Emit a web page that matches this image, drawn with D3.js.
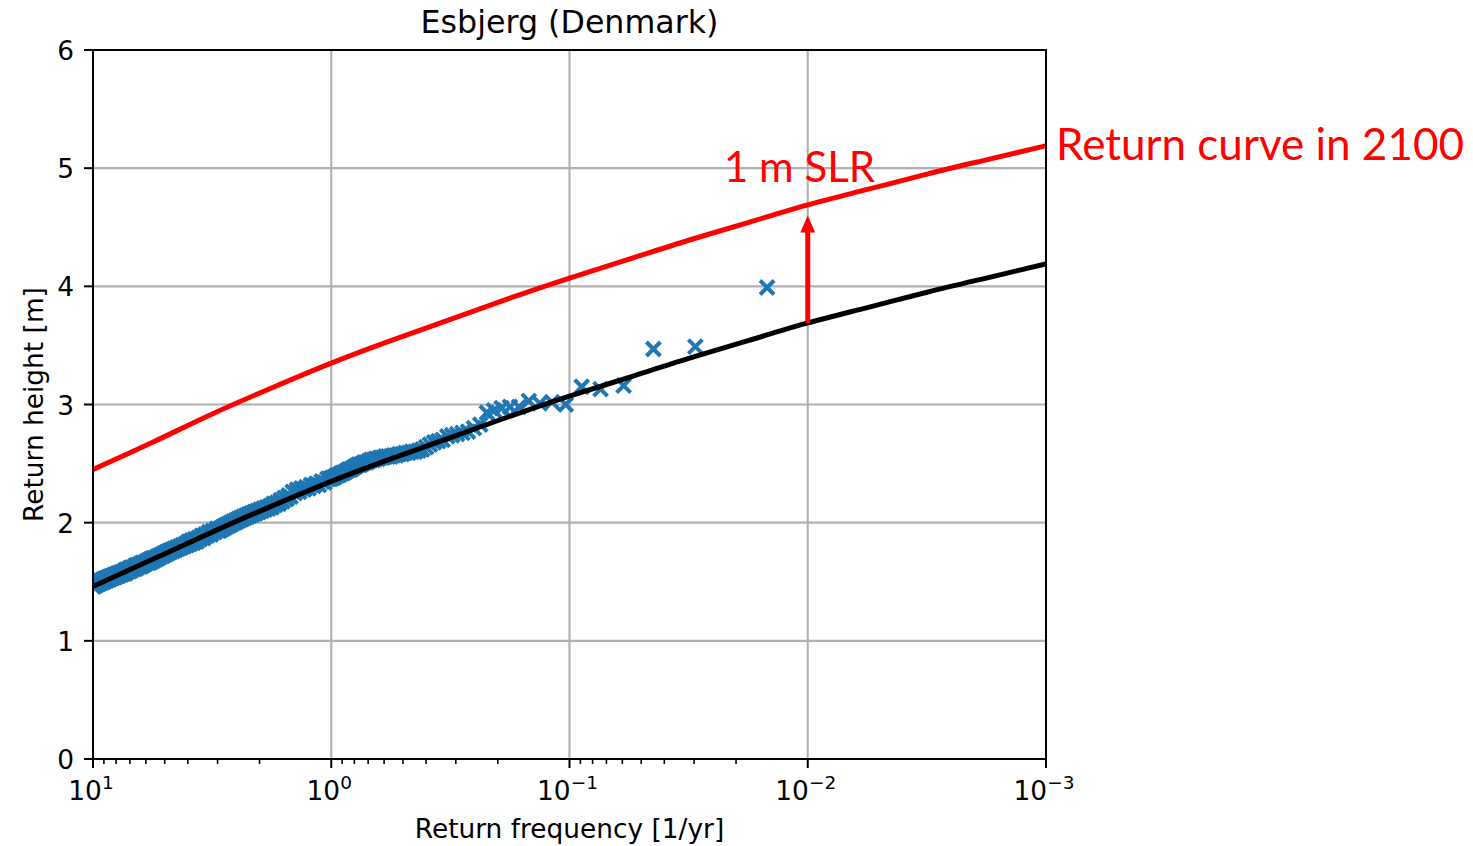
<!DOCTYPE html>
<html lang="en">
<head>
    <meta charset="UTF-8">
    <title>Esbjerg return curve</title>
    <style>
        body { margin: 0; background: #fff; }
        text { font-family: "DejaVu Sans", sans-serif; }
    </style>
</head>
<body>
<svg id="chart" width="1473" height="846"></svg>
<script src="https://d3js.org/d3.v7.min.js"></script>
<script>

    // fitted return curve today
    var curveFreq = [10, 5.62, 3.16, 1.78, 1, 0.562, 0.316, 0.178, 0.1, 0.0562, 0.0316, 0.0178, 0.01, 0.00562, 0.00316, 0.00178, 0.001];
    var curveNow = [1.46, 1.69, 1.92, 2.14, 2.35, 2.54, 2.72, 2.90, 3.07, 3.23, 3.39, 3.54, 3.69, 3.82, 3.95, 4.07, 4.19];
    // same curve with 1 m sea level rise (2100)
    var curve2100 = [2.45, 2.68, 2.92, 3.14, 3.35, 3.54, 3.72, 3.90, 4.07, 4.23, 4.39, 4.54, 4.69, 4.82, 4.95, 5.07, 5.19];

    // observed extremes: rank (1 = highest) and height [m]
    var recordYears = 67.5;
    var obsRank = [1, 2, 3, 4, 5, 6, 7, 8, 9, 10, 11, 12, 13, 14, 15, 16, 17, 18, 19, 20,
        21, 22, 23, 24, 25, 26, 27, 28, 29, 30,
        31, 32, 33, 34, 35, 36, 37, 38, 39, 40, 41, 42, 43, 44, 45, 46, 47, 48, 49, 50,
        51, 52, 53, 54, 55, 56, 57, 58, 59, 60, 61, 62, 63, 64, 65, 66, 67, 68, 69,
        70, 72, 74, 76, 78, 80, 82, 84, 86, 88, 90, 92, 94, 96, 98, 100, 102, 104, 106, 108,
        110, 112, 114, 116, 118, 120, 122, 124, 126, 128, 130, 132, 134, 136, 138, 140, 142, 144, 146, 148,
        150, 152, 154, 156, 158, 160, 162, 164, 166, 168, 170, 172, 174, 176, 178, 180, 182, 184, 186, 188,
        190, 192, 194, 196, 198, 200,
        204, 208, 212, 216, 220, 224, 228, 232, 236, 240, 244, 248, 252, 256, 260, 264, 268, 272, 276, 280,
        284, 288, 292, 296, 300, 304, 308, 312, 316, 320, 324, 328, 332, 336, 340, 344, 348, 352, 356, 360,
        364, 368, 372, 376, 380, 384, 388, 392, 396, 400, 404, 408, 412, 416, 420, 424, 428, 432, 436, 440,
        444, 448, 452, 456, 460, 464, 468, 472, 476, 480, 484, 488, 492, 496, 500, 504, 508, 512, 516, 520,
        524, 528, 532, 536, 540, 544, 548, 552, 556, 560, 564, 568, 572, 576, 580, 584, 588, 592, 596, 600,
        604, 608, 612, 616, 620, 624, 628, 632, 636, 640, 644, 648, 652, 656, 660, 664, 668, 672];
    var obsHeight = [3.99, 3.49, 3.47, 3.16, 3.13, 3.15, 3.00, 3.02, 3.01, 3.03, 2.98, 2.98, 2.97, 2.95, 2.93, 2.83, 2.80, 2.77, 2.76, 2.75,
        2.74, 2.73, 2.70, 2.69, 2.68, 2.66, 2.64, 2.62, 2.61, 2.60,
        2.60, 2.59, 2.59, 2.58, 2.58, 2.57, 2.57, 2.56, 2.56, 2.56, 2.55, 2.55, 2.54, 2.54, 2.53, 2.53, 2.52, 2.51, 2.51, 2.50,
        2.49, 2.49, 2.48, 2.47, 2.46, 2.45, 2.45, 2.44, 2.43, 2.42, 2.42, 2.41, 2.40, 2.40, 2.39, 2.38, 2.38, 2.37, 2.37,
        2.37, 2.34, 2.35, 2.32, 2.33, 2.31, 2.32, 2.29, 2.30, 2.28, 2.29, 2.26, 2.28, 2.25, 2.26, 2.22, 2.23, 2.20, 2.21, 2.18,
        2.19, 2.16, 2.17, 2.15, 2.16, 2.13, 2.14, 2.12, 2.13, 2.11, 2.12, 2.10, 2.11, 2.09, 2.10, 2.08, 2.09, 2.07, 2.08, 2.06,
        2.07, 2.05, 2.06, 2.04, 2.05, 2.03, 2.04, 2.02, 2.03, 2.01, 2.02, 2.00, 2.01, 1.99, 2.00, 1.98, 1.99, 1.97, 1.98, 1.96,
        1.97, 1.95, 1.96, 1.94, 1.95, 1.93,
        1.95, 1.92, 1.93, 1.90, 1.92, 1.89, 1.90, 1.87, 1.89, 1.86, 1.87, 1.84, 1.86, 1.83, 1.85, 1.82, 1.84, 1.81, 1.82, 1.80,
        1.81, 1.79, 1.80, 1.78, 1.79, 1.77, 1.78, 1.76, 1.77, 1.75, 1.76, 1.74, 1.75, 1.73, 1.74, 1.72, 1.73, 1.71, 1.72, 1.70,
        1.71, 1.69, 1.70, 1.68, 1.70, 1.67, 1.69, 1.66, 1.68, 1.66, 1.67, 1.65, 1.66, 1.64, 1.66, 1.63, 1.65, 1.63, 1.64, 1.62,
        1.64, 1.61, 1.63, 1.61, 1.62, 1.60, 1.62, 1.59, 1.61, 1.59, 1.60, 1.58, 1.60, 1.57, 1.59, 1.57, 1.58, 1.56, 1.58, 1.56,
        1.57, 1.55, 1.57, 1.55, 1.56, 1.54, 1.56, 1.54, 1.55, 1.53, 1.55, 1.53, 1.54, 1.52, 1.54, 1.52, 1.53, 1.51, 1.53, 1.51,
        1.52, 1.50, 1.52, 1.50, 1.51, 1.49, 1.51, 1.49, 1.50, 1.48, 1.50, 1.48, 1.49, 1.47, 1.49, 1.47, 1.48, 1.46];

    var xTicks = [10, 1, 0.1, 0.01, 0.001];
    var xTickExp = ["1", "0", "\u22121", "\u22122", "\u22123"];
    var yTicks = [0, 1, 2, 3, 4, 5, 6];

    // the 1 m SLR arrow at the 100-year level
    var arrowFreq = 0.01, arrowFrom = 3.69, arrowTo = 4.60;

    var svg = d3.select("#chart"),
        pL = 93, pR = 1046, pT = 50, pB = 759;

    var x = d3.scaleLog().domain([10, 0.001]).range([pL, pR]),
        y = d3.scaleLinear().domain([0, 6]).range([pB, pT]);

    svg.append("defs").append("clipPath").attr("id", "plot")
        .append("rect").attr("x", pL).attr("y", pT)
        .attr("width", pR - pL).attr("height", pB - pT);

    // grid
    var grid = svg.append("g").attr("stroke", "#b0b0b0").attr("stroke-width", 2.1);
    xTicks.forEach(function (t) {
        grid.append("line").attr("x1", x(t)).attr("x2", x(t)).attr("y1", pT).attr("y2", pB);
    });
    yTicks.forEach(function (t) {
        grid.append("line").attr("x1", pL).attr("x2", pR).attr("y1", y(t)).attr("y2", y(t));
    });

    var plot = svg.append("g").attr("clip-path", "url(#plot)");

    // observed points
    plot.append("g").selectAll("path")
        .data(obsRank)
        .enter().append("path")
        .attr("transform", function (d, i) {
            return "translate(" + x(d / recordYears) + "," + y(obsHeight[i]) + ")";
        })
        .attr("d", "M-7,-7L7,7M-7,7L7,-7")
        .attr("fill", "none")
        .attr("stroke", "#1f77b4")
        .attr("stroke-width", 4);

    var line = d3.line()
        .x(function (d) { return x(d[0]); })
        .y(function (d) { return y(d[1]); })
        .curve(d3.curveNatural);

    plot.append("path")
        .attr("d", line(d3.zip(curveFreq, curveNow)))
        .attr("fill", "none").attr("stroke", "#000").attr("stroke-width", 5);

    plot.append("path")
        .attr("d", line(d3.zip(curveFreq, curve2100)))
        .attr("fill", "none").attr("stroke", "#ff0000").attr("stroke-width", 5);

    // arrow
    var ax = x(arrowFreq), ay0 = y(arrowFrom), ay1 = y(arrowTo);
    svg.append("line")
        .attr("x1", ax).attr("x2", ax).attr("y1", ay0).attr("y2", ay1 + 14)
        .attr("stroke", "#ff0000").attr("stroke-width", 5);
    svg.append("path")
        .attr("d", "M" + ax + "," + ay1 + "L" + (ax + 7.5) + "," + (ay1 + 17) + "L" + (ax - 7.5) + "," + (ay1 + 17) + "Z")
        .attr("fill", "#ff0000");

    // frame
    svg.append("rect").attr("x", pL).attr("y", pT)
        .attr("width", pR - pL).attr("height", pB - pT)
        .attr("fill", "none").attr("stroke", "#000").attr("stroke-width", 2);

    // x ticks
    var axisG = svg.append("g");
    xTicks.forEach(function (t, i) {
        axisG.append("line").attr("x1", x(t)).attr("x2", x(t)).attr("y1", pB).attr("y2", pB + 9)
            .attr("stroke", "#000").attr("stroke-width", 2);
        var lab = axisG.append("text").attr("x", x(t) - 2).attr("y", 800)
            .attr("text-anchor", "middle").attr("font-size", 26.4);
        lab.append("tspan").text("10");
        lab.append("tspan").attr("dy", -11).attr("font-size", 18.5).text(xTickExp[i]);
    });
    // minor ticks
    for (var e = 0; e > -3; e--) {
        for (var m = 2; m <= 9; m++) {
            var v = m * Math.pow(10, e);
            axisG.append("line").attr("x1", x(v)).attr("x2", x(v)).attr("y1", pB).attr("y2", pB + 5)
                .attr("stroke", "#000").attr("stroke-width", 1.6);
        }
    }

    // y ticks
    yTicks.forEach(function (t) {
        axisG.append("line").attr("x1", pL - 9).attr("x2", pL).attr("y1", y(t)).attr("y2", y(t))
            .attr("stroke", "#000").attr("stroke-width", 2);
        axisG.append("text").attr("x", 74).attr("y", y(t) + 10)
            .attr("text-anchor", "end").attr("font-size", 26.4).text(t);
    });

    // labels
    svg.append("text").attr("x", (pL + pR) / 2).attr("y", 838)
        .attr("text-anchor", "middle").attr("font-size", 26.4).text("Return frequency [1/yr]");
    svg.append("text").attr("transform", "translate(43," + (pT + pB) / 2 + ") rotate(-90)")
        .attr("text-anchor", "middle").attr("font-size", 26.4).text("Return height [m]");
    svg.append("text").attr("x", (pL + pR) / 2).attr("y", 33)
        .attr("text-anchor", "middle").attr("font-size", 31.7).text("Esbjerg (Denmark)");

    // annotations
    svg.append("text").attr("x", 724).attr("y", 182)
        .style("font-family", "Lato, 'Open Sans', sans-serif")
        .attr("font-size", 42).attr("fill", "#ff0000").text("1 m SLR");
    svg.append("text").attr("x", 1056).attr("y", 160)
        .style("font-family", "Lato, 'Open Sans', sans-serif")
        .attr("font-size", 44).attr("fill", "#ff0000").text("Return curve in 2100");

</script>
</body>
</html>
